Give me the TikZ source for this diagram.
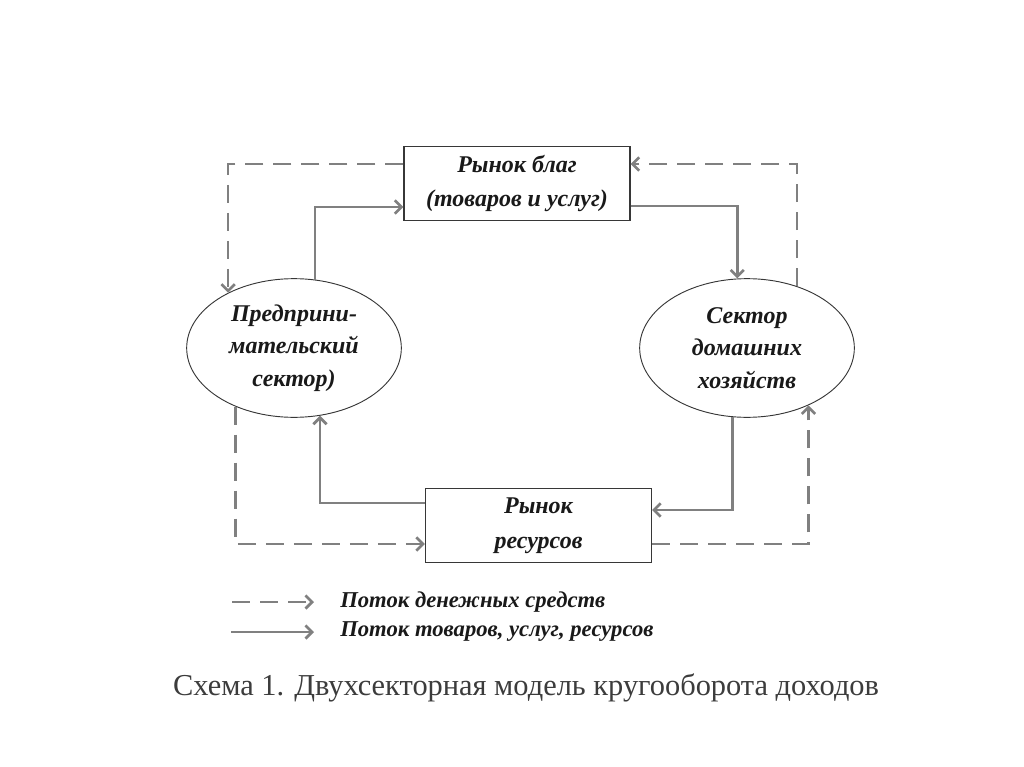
\documentclass[tikz,border=0pt]{standalone}
\usepackage{fontspec}
\setmainfont{Liberation Serif}
\usepackage{tikz}
\usetikzlibrary{shapes.geometric, arrows.meta, positioning}
\definecolor{linea}{RGB}{128,128,128}
\definecolor{borde}{RGB}{55,55,55}
\definecolor{texto}{RGB}{25,25,25}
\definecolor{pie}{RGB}{60,60,60}
\tikzstyle{box} = [draw=borde, line width=0.9pt, fill=white, minimum width=169.5pt, minimum height=56pt, inner sep=0pt, align=center, text=texto, font=\bfseries\itshape\fontsize{18}{26}\selectfont]
\tikzstyle{sector} = [ellipse, draw=borde, line width=0.7pt, minimum width=161pt, minimum height=104pt, inner sep=0pt, align=center, text=texto, font=\bfseries\itshape\fontsize{18}{24.4}\selectfont]
\tikzstyle{goods} = [draw=linea, line width=2pt, -{Straight Barb[length=5pt, width=10pt]}]
\tikzstyle{money} = [goods, dash pattern=on 13.5pt off 7.5pt]
\tikzstyle{legendtext} = [anchor=west, inner sep=0pt, text=texto, font=\bfseries\itshape\fontsize{17}{19}\selectfont]

\begin{document}
\begin{tikzpicture}[x=0.75pt, y=-0.75pt]
		\useasboundingbox (0,0) rectangle (1024,767);
		% Mercados
		\node[box] (bienes) at (517,183.5) {Рынок благ\\(товаров и услуг)};
		\node[box] (recursos) at (538.5,525.5) {Рынок\\ресурсов};
		
		% Sectores
		\node[sector] (empresas) at (294,348) {Предприни-\\мательский\\сектор)};
		\node[sector] (hogares) at (747,348) {Сектор\\домашних\\хозяйств};
		
		% Flujo de bienes, servicios y recursos
		\draw[goods] (empresas.73) |- ([yshift=-17.6pt]bienes.west);
		\draw[goods] ([yshift=-16.9pt]bienes.east) -| (hogares.98);
		\draw[goods] (hogares.258) |- ([yshift=11.6pt]recursos.east);
		\draw[goods] ([yshift=16.9pt]recursos.west) -| (empresas.291);
		
		% Flujo de dinero
		\draw[money] ([yshift=14.6pt]bienes.west) -| (empresas.140);
		\draw[money] (hogares.51) |- ([yshift=14.6pt]bienes.east);
		\draw[money] ([yshift=-13.9pt]recursos.east) -| (hogares.317);
		\draw[money] (empresas.225) |- ([yshift=-13.9pt]recursos.west);
		
		% Leyenda
		\coordinate (d0) at (232,602);
		\coordinate (d1) at (314,602);
		\coordinate (g0) at (231,632);
		\coordinate (g1) at (314,632);
		\draw[money] (d0) -- (d1);
		\draw[goods] (g0) -- (g1);
		\node[legendtext] (ldinero) at (340,602) {Поток денежных средств};
		\node[legendtext] (lbienes) at (340,632) {Поток товаров, услуг, ресурсов};
		
		% Titulo
		\node[text=pie, font=\fontsize{22.8}{28}\selectfont] (titulo) at (526,688) {Схема 1. Двухсекторная модель кругооборота доходов};
	\end{tikzpicture}
\end{document}
